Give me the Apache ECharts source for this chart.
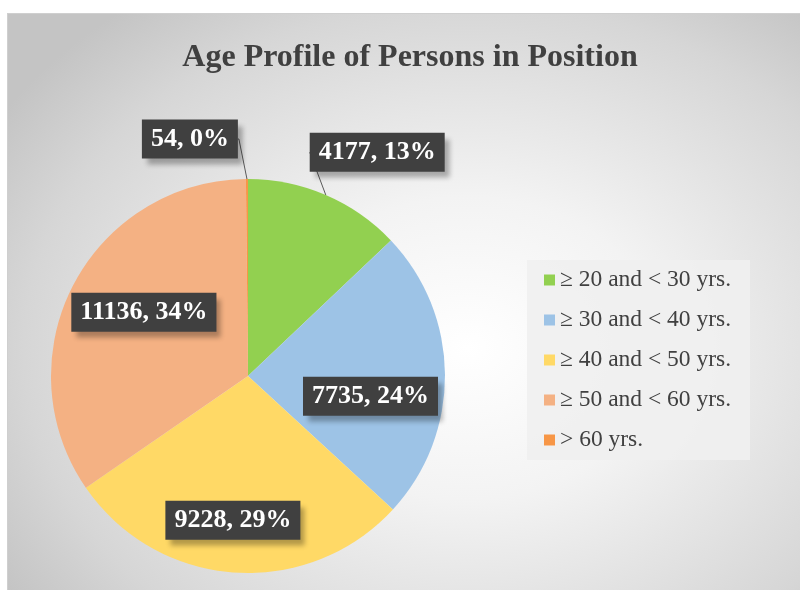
<!DOCTYPE html>
<html>
<head>
<meta charset="utf-8">
<script src="https://cdn.jsdelivr.net/npm/echarts@6/dist/echarts.min.js"></script>
<style>
  html, body { margin: 0; padding: 0; background: #fff; }
  .wrap { position: relative; width: 800px; height: 590px; }
  .plate {
    position: absolute; left: 7px; top: 13px; right: 0; bottom: 0;
    border-top: 1px solid #cfcfcf; border-left: 1px solid #cfcfcf;
    background: radial-gradient(ellipse 70% 75% at 58% 58%, #ffffff 0%, #f3f3f3 35%, #d6d6d6 80%, #c4c4c4 100%);
  }
  #chart { position: absolute; left: 0; top: 0; width: 800px; height: 590px; }
</style>
</head>
<body>
<div class="wrap">
  <div class="plate"></div>
  <div id="chart"></div>
</div>
<script>
// age groups and number of persons in each
const categories = ['≥ 20 and < 30 yrs.', '≥ 30 and < 40 yrs.', '≥ 40 and < 50 yrs.', '≥ 50 and < 60 yrs.', '> 60 yrs.'];
const counts = [4177, 7735, 9228, 11136, 54];
const colors = ['#92d050', '#9dc3e6', '#ffd966', '#f4b183', '#f79646'];

// which labels sit inside the slice, and how far each is nudged from the default spot
const labelInside = [false, true, true, true, false];
const labelShift = [[-28, -29], [21, 21], [-8, 43], [-14, -17], [-3, -25]];

const chart = echarts.init(document.getElementById('chart'));

const option = {
  backgroundColor: 'transparent',
  color: colors,
  title: {
    text: 'Age Profile of Persons in Position',
    left: 405,
    top: 37,
    textAlign: 'center',
    textStyle: {
      fontFamily: 'Liberation Serif',
      fontWeight: 'bold',
      fontSize: 32,
      color: '#404040'
    }
  },
  legend: {
    orient: 'vertical',
    left: 527,
    top: 260,
    padding: [8, 19, 8, 17],
    backgroundColor: 'rgba(240,240,240,0.9)',
    itemWidth: 11,
    itemHeight: 11,
    itemGap: 16,
    icon: 'rect',
    data: categories,
    textStyle: {
      fontFamily: 'Liberation Serif',
      fontSize: 23.5,
      lineHeight: 24,
      color: '#404040'
    }
  },
  series: [
    {
      type: 'pie',
      center: [248, 376],
      radius: 197,
      startAngle: 90,
      clockwise: true,
      avoidLabelOverlap: false,
      label: {
        show: true,
        position: 'outside',
        formatter: p => p.value + ', ' + Math.round(p.percent) + '%',
        fontFamily: 'Liberation Serif',
        fontWeight: 'bold',
        fontSize: 26,
        color: '#fff',
        backgroundColor: '#404040',
        padding: [7, 9, 6, 9],
        shadowColor: 'rgba(0,0,0,0.3)',
        shadowBlur: 5,
        shadowOffsetX: 5,
        shadowOffsetY: 6
      },
      labelLine: {
        show: true,
        length: 15,
        length2: 1,
        lineStyle: { color: '#595959', width: 1 }
      },
      emphasis: { disabled: true },
      labelLayout: params => {
        const s = labelShift[params.dataIndex];
        const r = params.labelRect;
        return {
          x: r.x + r.width / 2 + s[0],
          y: r.y + r.height / 2 + s[1],
          align: 'center',
          verticalAlign: 'middle'
        };
      },
      data: categories.map((name, i) => ({
        name: name,
        value: counts[i],
        label: labelInside[i] ? { position: 'inside' } : {},
        labelLine: { show: !labelInside[i] }
      }))
    }
  ]
};

chart.setOption(option);
window.addEventListener('resize', chart.resize);
</script>
</body>
</html>
